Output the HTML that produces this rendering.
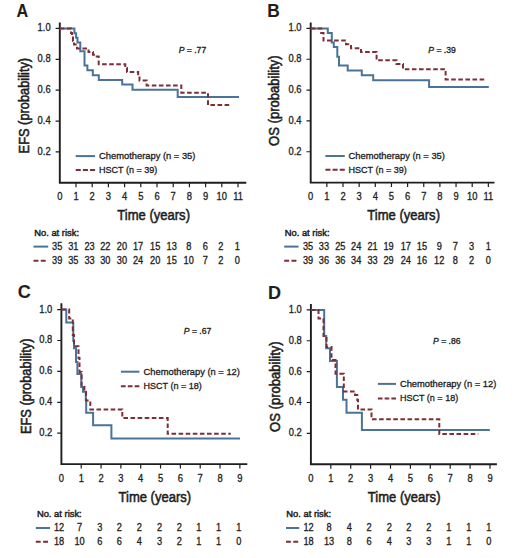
<!DOCTYPE html><html><head><meta charset="utf-8"><style>html,body{margin:0;padding:0;background:#fff;}svg{display:block;}text{font-family:"Liberation Sans", sans-serif;fill:#1e1e1e;stroke:#1e1e1e;stroke-width:0.32px;font-size:9.4px;}.tk{font-size:10.4px;}.ax{font-size:14.5px;stroke-width:0.55px;}.pl{font-size:18px;font-weight:bold;stroke-width:0.1px;}.pv{font-size:8.6px;}.nr{font-size:10px;}.nar{stroke-width:0.45px;}.lg{font-size:9.9px;}.b{stroke:#4a7399;stroke-width:2;fill:none;}.r{stroke:#7c2f37;stroke-width:2;fill:none;stroke-dasharray:4.6 2.5;}.k{stroke:#1e1e1e;fill:none;}</style></head><body>
<svg width="520" height="558" viewBox="0 0 520 558">
<rect width="520" height="558" fill="#fff"/>
<g><path class="k" d="M59.8,22.5 V182.8 H246.3" stroke-width="1.9"/>
<text transform="translate(50.6,154.82) scale(0.9,1)" class="tk" text-anchor="end">0.2</text>
<text transform="translate(50.6,123.94) scale(0.9,1)" class="tk" text-anchor="end">0.4</text>
<text transform="translate(50.6,93.06) scale(0.9,1)" class="tk" text-anchor="end">0.6</text>
<text transform="translate(50.6,62.18) scale(0.9,1)" class="tk" text-anchor="end">0.8</text>
<text transform="translate(50.6,31.3) scale(0.9,1)" class="tk" text-anchor="end">1.0</text>
<text transform="translate(59.8,199.8) scale(0.9,1)" class="tk" text-anchor="middle">0</text>
<text transform="translate(76,199.8) scale(0.9,1)" class="tk" text-anchor="middle">1</text>
<text transform="translate(92.2,199.8) scale(0.9,1)" class="tk" text-anchor="middle">2</text>
<text transform="translate(108.4,199.8) scale(0.9,1)" class="tk" text-anchor="middle">3</text>
<text transform="translate(124.6,199.8) scale(0.9,1)" class="tk" text-anchor="middle">4</text>
<text transform="translate(140.8,199.8) scale(0.9,1)" class="tk" text-anchor="middle">5</text>
<text transform="translate(157,199.8) scale(0.9,1)" class="tk" text-anchor="middle">6</text>
<text transform="translate(173.2,199.8) scale(0.9,1)" class="tk" text-anchor="middle">7</text>
<text transform="translate(189.4,199.8) scale(0.9,1)" class="tk" text-anchor="middle">8</text>
<text transform="translate(205.6,199.8) scale(0.9,1)" class="tk" text-anchor="middle">9</text>
<text transform="translate(221.8,199.8) scale(0.9,1)" class="tk" text-anchor="middle">10</text>
<text transform="translate(238,199.8) scale(0.9,1)" class="tk" text-anchor="middle">11</text>
<path class="k" d="M55.6,151.92 H59.8 M55.6,121.04 H59.8 M55.6,90.16 H59.8 M55.6,59.28 H59.8 M55.6,28.4 H59.8 M76,182.8 V187.3 M92.2,182.8 V187.3 M108.4,182.8 V187.3 M124.6,182.8 V187.3 M140.8,182.8 V187.3 M157,182.8 V187.3 M173.2,182.8 V187.3 M189.4,182.8 V187.3 M205.6,182.8 V187.3 M221.8,182.8 V187.3 M238,182.8 V187.3" stroke-width="1.2"/>
<path class="b" d="M59.8,28.4 H74.4 V33.2 H76.1 V37.8 H77.5 V42.5 H80.3 V51.2 H84.5 V65.6 H87.4 V70.3 H92.8 V75.3 H98.8 V80 H122.2 V84.5 H132.5 V89.7 H177.7 V97 H239"/>
<path class="r" d="M59.8,28.4 H71 V33 H72 V36.5 H73 V41 H74 V44.5 H77 V48.4 H88.5 V52.1 H93 V54.7 H95.5 V56.4 H98.7 V64.2 H125.3 V68 H127 V72.1 H138.2 V76.2 H139.5 V80.5 H146.6 V85.5 H181.3 V92.8 H208 V105 H231.4"/>
<text transform="translate(16.6,16.6) scale(0.9,1)" class="pl">A</text>
<text class="ax" transform="translate(28.8,153.4) rotate(-90) scale(0.885,1)">EFS (probability)</text>
<text transform="translate(117.3,220.1) scale(0.9,1)" class="ax">Time (years)</text>
<path class="b" d="M75.7,156.1 H95.1"/>
<path class="r" d="M75.7,169.9 H95.1" style="stroke-dasharray:5.07 2.1"/>
<text x="99" y="159" class="lg" textLength="96.4" lengthAdjust="spacingAndGlyphs">Chemotherapy (n = 35)</text>
<text x="99" y="172.8" class="lg" textLength="58.3" lengthAdjust="spacingAndGlyphs">HSCT (n = 39)</text>
<text x="178.7" y="52.5" class="pv"><tspan font-style="italic">P</tspan> = .77</text>
<text x="34.2" y="235.8" class="nar">No. at risk:</text>
<path class="b" d="M33.5,246.6 H48.2"/>
<path class="r" d="M33.5,260.8 H45.7" style="stroke-dasharray:4.9 2.4"/>
<text transform="translate(57.2,249.9) scale(0.92,1)" class="nr" text-anchor="middle">35</text>
<text transform="translate(57.2,264) scale(0.92,1)" class="nr" text-anchor="middle">39</text>
<text transform="translate(73.3,249.9) scale(0.92,1)" class="nr" text-anchor="middle">31</text>
<text transform="translate(73.3,264) scale(0.92,1)" class="nr" text-anchor="middle">35</text>
<text transform="translate(89.6,249.9) scale(0.92,1)" class="nr" text-anchor="middle">23</text>
<text transform="translate(89.6,264) scale(0.92,1)" class="nr" text-anchor="middle">33</text>
<text transform="translate(105.3,249.9) scale(0.92,1)" class="nr" text-anchor="middle">22</text>
<text transform="translate(105.3,264) scale(0.92,1)" class="nr" text-anchor="middle">30</text>
<text transform="translate(121.9,249.9) scale(0.92,1)" class="nr" text-anchor="middle">20</text>
<text transform="translate(121.9,264) scale(0.92,1)" class="nr" text-anchor="middle">30</text>
<text transform="translate(138.1,249.9) scale(0.92,1)" class="nr" text-anchor="middle">17</text>
<text transform="translate(138.1,264) scale(0.92,1)" class="nr" text-anchor="middle">24</text>
<text transform="translate(155.2,249.9) scale(0.92,1)" class="nr" text-anchor="middle">15</text>
<text transform="translate(155.2,264) scale(0.92,1)" class="nr" text-anchor="middle">20</text>
<text transform="translate(171.7,249.9) scale(0.92,1)" class="nr" text-anchor="middle">13</text>
<text transform="translate(171.7,264) scale(0.92,1)" class="nr" text-anchor="middle">15</text>
<text transform="translate(188.7,249.9) scale(0.92,1)" class="nr" text-anchor="middle">8</text>
<text transform="translate(188.7,264) scale(0.92,1)" class="nr" text-anchor="middle">10</text>
<text transform="translate(205.2,249.9) scale(0.92,1)" class="nr" text-anchor="middle">6</text>
<text transform="translate(205.2,264) scale(0.92,1)" class="nr" text-anchor="middle">7</text>
<text transform="translate(220.8,249.9) scale(0.92,1)" class="nr" text-anchor="middle">2</text>
<text transform="translate(220.8,264) scale(0.92,1)" class="nr" text-anchor="middle">2</text>
<text transform="translate(237.3,249.9) scale(0.92,1)" class="nr" text-anchor="middle">1</text>
<text transform="translate(237.3,264) scale(0.92,1)" class="nr" text-anchor="middle">0</text></g>
<g><path class="k" d="M310.7,22.5 V182.6 H494.5" stroke-width="1.9"/>
<text transform="translate(301.5,154.66) scale(0.9,1)" class="tk" text-anchor="end">0.2</text>
<text transform="translate(301.5,123.82) scale(0.9,1)" class="tk" text-anchor="end">0.4</text>
<text transform="translate(301.5,92.98) scale(0.9,1)" class="tk" text-anchor="end">0.6</text>
<text transform="translate(301.5,62.14) scale(0.9,1)" class="tk" text-anchor="end">0.8</text>
<text transform="translate(301.5,31.3) scale(0.9,1)" class="tk" text-anchor="end">1.0</text>
<text transform="translate(310.7,200.2) scale(0.9,1)" class="tk" text-anchor="middle">0</text>
<text transform="translate(326.85,200.2) scale(0.9,1)" class="tk" text-anchor="middle">1</text>
<text transform="translate(343,200.2) scale(0.9,1)" class="tk" text-anchor="middle">2</text>
<text transform="translate(359.15,200.2) scale(0.9,1)" class="tk" text-anchor="middle">3</text>
<text transform="translate(375.3,200.2) scale(0.9,1)" class="tk" text-anchor="middle">4</text>
<text transform="translate(391.45,200.2) scale(0.9,1)" class="tk" text-anchor="middle">5</text>
<text transform="translate(407.6,200.2) scale(0.9,1)" class="tk" text-anchor="middle">6</text>
<text transform="translate(423.75,200.2) scale(0.9,1)" class="tk" text-anchor="middle">7</text>
<text transform="translate(439.9,200.2) scale(0.9,1)" class="tk" text-anchor="middle">8</text>
<text transform="translate(456.05,200.2) scale(0.9,1)" class="tk" text-anchor="middle">9</text>
<text transform="translate(472.2,200.2) scale(0.9,1)" class="tk" text-anchor="middle">10</text>
<text transform="translate(488.35,200.2) scale(0.9,1)" class="tk" text-anchor="middle">11</text>
<path class="k" d="M306.5,151.76 H310.7 M306.5,120.92 H310.7 M306.5,90.08 H310.7 M306.5,59.24 H310.7 M306.5,28.4 H310.7 M326.85,182.6 V187.1 M343,182.6 V187.1 M359.15,182.6 V187.1 M375.3,182.6 V187.1 M391.45,182.6 V187.1 M407.6,182.6 V187.1 M423.75,182.6 V187.1 M439.9,182.6 V187.1 M456.05,182.6 V187.1 M472.2,182.6 V187.1 M488.35,182.6 V187.1" stroke-width="1.2"/>
<path class="b" d="M310.7,28.4 H327.8 V32.9 H331.8 V42.5 H333.8 V47.1 H337.3 V56.7 H339 V65.6 H347.7 V70.6 H361.8 V75.3 H373.2 V80.2 H429.1 V87.1 H488.8"/>
<path class="r" d="M310.7,28.4 H321.2 V33 H323.5 V40.5 H346 V44.2 H351 V48.3 H361 V52.1 H376.6 V60.3 H396.5 V64 H403 V69.2 H445.6 V79.6 H485"/>
<text transform="translate(267.3,17.1) scale(0.96,1)" class="pl">B</text>
<text class="ax" transform="translate(279.4,145.9) rotate(-90) scale(0.9,1)">OS (probability)</text>
<text transform="translate(367.3,220.1) scale(0.9,1)" class="ax">Time (years)</text>
<path class="b" d="M325.4,156 H344.8"/>
<path class="r" d="M325.4,169.8 H344.8" style="stroke-dasharray:5.07 2.1"/>
<text x="348.5" y="158.9" class="lg" textLength="96.4" lengthAdjust="spacingAndGlyphs">Chemotherapy (n = 35)</text>
<text x="348.5" y="172.7" class="lg" textLength="58.3" lengthAdjust="spacingAndGlyphs">HSCT (n = 39)</text>
<text x="428.3" y="52.7" class="pv"><tspan font-style="italic">P</tspan> = .39</text>
<text x="284.7" y="235.8" class="nar">No. at risk:</text>
<path class="b" d="M284.2,246.6 H298.5"/>
<path class="r" d="M284.2,260.8 H296.4" style="stroke-dasharray:4.9 2.4"/>
<text transform="translate(308,249.9) scale(0.92,1)" class="nr" text-anchor="middle">35</text>
<text transform="translate(308,264) scale(0.92,1)" class="nr" text-anchor="middle">39</text>
<text transform="translate(323.9,249.9) scale(0.92,1)" class="nr" text-anchor="middle">33</text>
<text transform="translate(323.9,264) scale(0.92,1)" class="nr" text-anchor="middle">36</text>
<text transform="translate(340.3,249.9) scale(0.92,1)" class="nr" text-anchor="middle">25</text>
<text transform="translate(340.3,264) scale(0.92,1)" class="nr" text-anchor="middle">36</text>
<text transform="translate(356.2,249.9) scale(0.92,1)" class="nr" text-anchor="middle">24</text>
<text transform="translate(356.2,264) scale(0.92,1)" class="nr" text-anchor="middle">34</text>
<text transform="translate(372.6,249.9) scale(0.92,1)" class="nr" text-anchor="middle">21</text>
<text transform="translate(372.6,264) scale(0.92,1)" class="nr" text-anchor="middle">33</text>
<text transform="translate(388.5,249.9) scale(0.92,1)" class="nr" text-anchor="middle">19</text>
<text transform="translate(388.5,264) scale(0.92,1)" class="nr" text-anchor="middle">29</text>
<text transform="translate(405.8,249.9) scale(0.92,1)" class="nr" text-anchor="middle">17</text>
<text transform="translate(405.8,264) scale(0.92,1)" class="nr" text-anchor="middle">24</text>
<text transform="translate(421.9,249.9) scale(0.92,1)" class="nr" text-anchor="middle">15</text>
<text transform="translate(421.9,264) scale(0.92,1)" class="nr" text-anchor="middle">16</text>
<text transform="translate(439.2,249.9) scale(0.92,1)" class="nr" text-anchor="middle">9</text>
<text transform="translate(439.2,264) scale(0.92,1)" class="nr" text-anchor="middle">12</text>
<text transform="translate(455.4,249.9) scale(0.92,1)" class="nr" text-anchor="middle">7</text>
<text transform="translate(455.4,264) scale(0.92,1)" class="nr" text-anchor="middle">8</text>
<text transform="translate(471.5,249.9) scale(0.92,1)" class="nr" text-anchor="middle">3</text>
<text transform="translate(471.5,264) scale(0.92,1)" class="nr" text-anchor="middle">2</text>
<text transform="translate(488.2,249.9) scale(0.92,1)" class="nr" text-anchor="middle">1</text>
<text transform="translate(488.2,264) scale(0.92,1)" class="nr" text-anchor="middle">0</text></g>
<g><path class="k" d="M61.4,303.3 V464.1 H247.3" stroke-width="1.9"/>
<text transform="translate(52.2,436.1) scale(0.9,1)" class="tk" text-anchor="end">0.2</text>
<text transform="translate(52.2,405.2) scale(0.9,1)" class="tk" text-anchor="end">0.4</text>
<text transform="translate(52.2,374.3) scale(0.9,1)" class="tk" text-anchor="end">0.6</text>
<text transform="translate(52.2,343.4) scale(0.9,1)" class="tk" text-anchor="end">0.8</text>
<text transform="translate(52.2,312.5) scale(0.9,1)" class="tk" text-anchor="end">1.0</text>
<text transform="translate(61.4,481.6) scale(0.9,1)" class="tk" text-anchor="middle">0</text>
<text transform="translate(81.23,481.6) scale(0.9,1)" class="tk" text-anchor="middle">1</text>
<text transform="translate(101.06,481.6) scale(0.9,1)" class="tk" text-anchor="middle">2</text>
<text transform="translate(120.89,481.6) scale(0.9,1)" class="tk" text-anchor="middle">3</text>
<text transform="translate(140.72,481.6) scale(0.9,1)" class="tk" text-anchor="middle">4</text>
<text transform="translate(160.55,481.6) scale(0.9,1)" class="tk" text-anchor="middle">5</text>
<text transform="translate(180.38,481.6) scale(0.9,1)" class="tk" text-anchor="middle">6</text>
<text transform="translate(200.21,481.6) scale(0.9,1)" class="tk" text-anchor="middle">7</text>
<text transform="translate(220.04,481.6) scale(0.9,1)" class="tk" text-anchor="middle">8</text>
<text transform="translate(239.87,481.6) scale(0.9,1)" class="tk" text-anchor="middle">9</text>
<path class="k" d="M57.2,433.2 H61.4 M57.2,402.3 H61.4 M57.2,371.4 H61.4 M57.2,340.5 H61.4 M57.2,309.6 H61.4 M81.23,464.1 V468.6 M101.06,464.1 V468.6 M120.89,464.1 V468.6 M140.72,464.1 V468.6 M160.55,464.1 V468.6 M180.38,464.1 V468.6 M200.21,464.1 V468.6 M220.04,464.1 V468.6 M239.87,464.1 V468.6" stroke-width="1.2"/>
<path class="b" d="M61.4,309.6 H66.3 V322.6 H73.3 V341 H74 V348.2 H76 V362 H77.4 V374 H81.3 V387 H83 V391.7 H85.8 V400 H86.2 V412.7 H93.1 V425.3 H111.4 V438.5 H240"/>
<path class="r" d="M61.4,309.6 H69.2 V318.5 H72.8 V335 H74 V346.2 H78.5 V358 H79.5 V372 H81.6 V387 H84.4 V392 H86 V400.6 H90.3 V409.4 H122.3 V418 H167.7 V433.8 H230.8"/>
<text x="17.7" y="297.7" class="pl">C</text>
<text class="ax" transform="translate(30.6,434.1) rotate(-90) scale(0.885,1)">EFS (probability)</text>
<text transform="translate(118.5,501.5) scale(0.9,1)" class="ax">Time (years)</text>
<path class="b" d="M120.9,371.7 H139.4"/>
<path class="r" d="M120.9,386.3 H139.4" style="stroke-dasharray:4.77 2.1"/>
<text x="143.5" y="374.6" class="lg" textLength="96.4" lengthAdjust="spacingAndGlyphs">Chemotherapy (n = 12)</text>
<text x="143.5" y="389.2" class="lg" textLength="58.3" lengthAdjust="spacingAndGlyphs">HSCT (n = 18)</text>
<text x="183.8" y="333.8" class="pv"><tspan font-style="italic">P</tspan> = .67</text>
<text x="36.9" y="516.5" class="nar">No. at risk:</text>
<path class="b" d="M35.8,528 H50"/>
<path class="r" d="M35.8,541.8 H48" style="stroke-dasharray:4.9 2.4"/>
<text transform="translate(59.1,531.2) scale(0.92,1)" class="nr" text-anchor="middle">12</text>
<text transform="translate(59.1,545.3) scale(0.92,1)" class="nr" text-anchor="middle">18</text>
<text transform="translate(79.5,531.2) scale(0.92,1)" class="nr" text-anchor="middle">7</text>
<text transform="translate(79.5,545.3) scale(0.92,1)" class="nr" text-anchor="middle">10</text>
<text transform="translate(99.7,531.2) scale(0.92,1)" class="nr" text-anchor="middle">3</text>
<text transform="translate(99.7,545.3) scale(0.92,1)" class="nr" text-anchor="middle">6</text>
<text transform="translate(119.2,531.2) scale(0.92,1)" class="nr" text-anchor="middle">2</text>
<text transform="translate(119.2,545.3) scale(0.92,1)" class="nr" text-anchor="middle">6</text>
<text transform="translate(139.4,531.2) scale(0.92,1)" class="nr" text-anchor="middle">2</text>
<text transform="translate(139.4,545.3) scale(0.92,1)" class="nr" text-anchor="middle">4</text>
<text transform="translate(159.6,531.2) scale(0.92,1)" class="nr" text-anchor="middle">2</text>
<text transform="translate(159.6,545.3) scale(0.92,1)" class="nr" text-anchor="middle">3</text>
<text transform="translate(179.2,531.2) scale(0.92,1)" class="nr" text-anchor="middle">2</text>
<text transform="translate(179.2,545.3) scale(0.92,1)" class="nr" text-anchor="middle">2</text>
<text transform="translate(198.8,531.2) scale(0.92,1)" class="nr" text-anchor="middle">1</text>
<text transform="translate(198.8,545.3) scale(0.92,1)" class="nr" text-anchor="middle">1</text>
<text transform="translate(218.5,531.2) scale(0.92,1)" class="nr" text-anchor="middle">1</text>
<text transform="translate(218.5,545.3) scale(0.92,1)" class="nr" text-anchor="middle">1</text>
<text transform="translate(238.8,531.2) scale(0.92,1)" class="nr" text-anchor="middle">1</text>
<text transform="translate(238.8,545.3) scale(0.92,1)" class="nr" text-anchor="middle">0</text></g>
<g><path class="k" d="M310.9,304 V464.2 H496.9" stroke-width="1.9"/>
<text transform="translate(301.7,436.24) scale(0.9,1)" class="tk" text-anchor="end">0.2</text>
<text transform="translate(301.7,405.38) scale(0.9,1)" class="tk" text-anchor="end">0.4</text>
<text transform="translate(301.7,374.52) scale(0.9,1)" class="tk" text-anchor="end">0.6</text>
<text transform="translate(301.7,343.66) scale(0.9,1)" class="tk" text-anchor="end">0.8</text>
<text transform="translate(301.7,312.8) scale(0.9,1)" class="tk" text-anchor="end">1.0</text>
<text transform="translate(310.9,481.8) scale(0.9,1)" class="tk" text-anchor="middle">0</text>
<text transform="translate(330.8,481.8) scale(0.9,1)" class="tk" text-anchor="middle">1</text>
<text transform="translate(350.7,481.8) scale(0.9,1)" class="tk" text-anchor="middle">2</text>
<text transform="translate(370.6,481.8) scale(0.9,1)" class="tk" text-anchor="middle">3</text>
<text transform="translate(390.5,481.8) scale(0.9,1)" class="tk" text-anchor="middle">4</text>
<text transform="translate(410.4,481.8) scale(0.9,1)" class="tk" text-anchor="middle">5</text>
<text transform="translate(430.3,481.8) scale(0.9,1)" class="tk" text-anchor="middle">6</text>
<text transform="translate(450.2,481.8) scale(0.9,1)" class="tk" text-anchor="middle">7</text>
<text transform="translate(470.1,481.8) scale(0.9,1)" class="tk" text-anchor="middle">8</text>
<text transform="translate(490,481.8) scale(0.9,1)" class="tk" text-anchor="middle">9</text>
<path class="k" d="M306.7,433.34 H310.9 M306.7,402.48 H310.9 M306.7,371.62 H310.9 M306.7,340.76 H310.9 M306.7,309.9 H310.9 M330.8,464.2 V468.7 M350.7,464.2 V468.7 M370.6,464.2 V468.7 M390.5,464.2 V468.7 M410.4,464.2 V468.7 M430.3,464.2 V468.7 M450.2,464.2 V468.7 M470.1,464.2 V468.7 M490,464.2 V468.7" stroke-width="1.2"/>
<path class="b" d="M310.9,309.9 H324.2 V336 H326.2 V348.2 H330 V361 H336.9 V386.9 H343 V399.7 H346.5 V412.8 H361.9 V430.1 H489.8"/>
<path class="r" d="M310.9,309.9 H318.5 V318.5 H323.5 V336 H326.5 V347 H331.5 V360 H335.5 V373.7 H343.8 V391.5 H355 V395 H357.3 V400 H358 V409.4 H371.5 V419.2 H439.3 V434.1 H478.3"/>
<text x="268" y="298.7" class="pl">D</text>
<text class="ax" transform="translate(279.8,431.9) rotate(-90) scale(0.9,1)">OS (probability)</text>
<text transform="translate(367.8,501.5) scale(0.9,1)" class="ax">Time (years)</text>
<path class="b" d="M377.9,383.9 H396"/>
<path class="r" d="M377.9,398.5 H396" style="stroke-dasharray:4.63 2.1"/>
<text x="399.9" y="386.8" class="lg" textLength="96.4" lengthAdjust="spacingAndGlyphs">Chemotherapy (n = 12)</text>
<text x="399.9" y="401.4" class="lg" textLength="58.3" lengthAdjust="spacingAndGlyphs">HSCT (n = 18)</text>
<text x="433.1" y="343.5" class="pv"><tspan font-style="italic">P</tspan> = .86</text>
<text x="286.3" y="516.5" class="nar">No. at risk:</text>
<path class="b" d="M286,528 H299.2"/>
<path class="r" d="M286,541.8 H298.2" style="stroke-dasharray:4.9 2.4"/>
<text transform="translate(308.5,531.2) scale(0.92,1)" class="nr" text-anchor="middle">12</text>
<text transform="translate(308.5,545.3) scale(0.92,1)" class="nr" text-anchor="middle">18</text>
<text transform="translate(329,531.2) scale(0.92,1)" class="nr" text-anchor="middle">8</text>
<text transform="translate(329,545.3) scale(0.92,1)" class="nr" text-anchor="middle">13</text>
<text transform="translate(349.4,531.2) scale(0.92,1)" class="nr" text-anchor="middle">4</text>
<text transform="translate(349.4,545.3) scale(0.92,1)" class="nr" text-anchor="middle">8</text>
<text transform="translate(369,531.2) scale(0.92,1)" class="nr" text-anchor="middle">2</text>
<text transform="translate(369,545.3) scale(0.92,1)" class="nr" text-anchor="middle">6</text>
<text transform="translate(389.4,531.2) scale(0.92,1)" class="nr" text-anchor="middle">2</text>
<text transform="translate(389.4,545.3) scale(0.92,1)" class="nr" text-anchor="middle">4</text>
<text transform="translate(408.7,531.2) scale(0.92,1)" class="nr" text-anchor="middle">2</text>
<text transform="translate(408.7,545.3) scale(0.92,1)" class="nr" text-anchor="middle">3</text>
<text transform="translate(428.8,531.2) scale(0.92,1)" class="nr" text-anchor="middle">2</text>
<text transform="translate(428.8,545.3) scale(0.92,1)" class="nr" text-anchor="middle">3</text>
<text transform="translate(448.8,531.2) scale(0.92,1)" class="nr" text-anchor="middle">1</text>
<text transform="translate(448.8,545.3) scale(0.92,1)" class="nr" text-anchor="middle">1</text>
<text transform="translate(468.9,531.2) scale(0.92,1)" class="nr" text-anchor="middle">1</text>
<text transform="translate(468.9,545.3) scale(0.92,1)" class="nr" text-anchor="middle">1</text>
<text transform="translate(488.8,531.2) scale(0.92,1)" class="nr" text-anchor="middle">1</text>
<text transform="translate(488.8,545.3) scale(0.92,1)" class="nr" text-anchor="middle">0</text></g>
</svg></body></html>
